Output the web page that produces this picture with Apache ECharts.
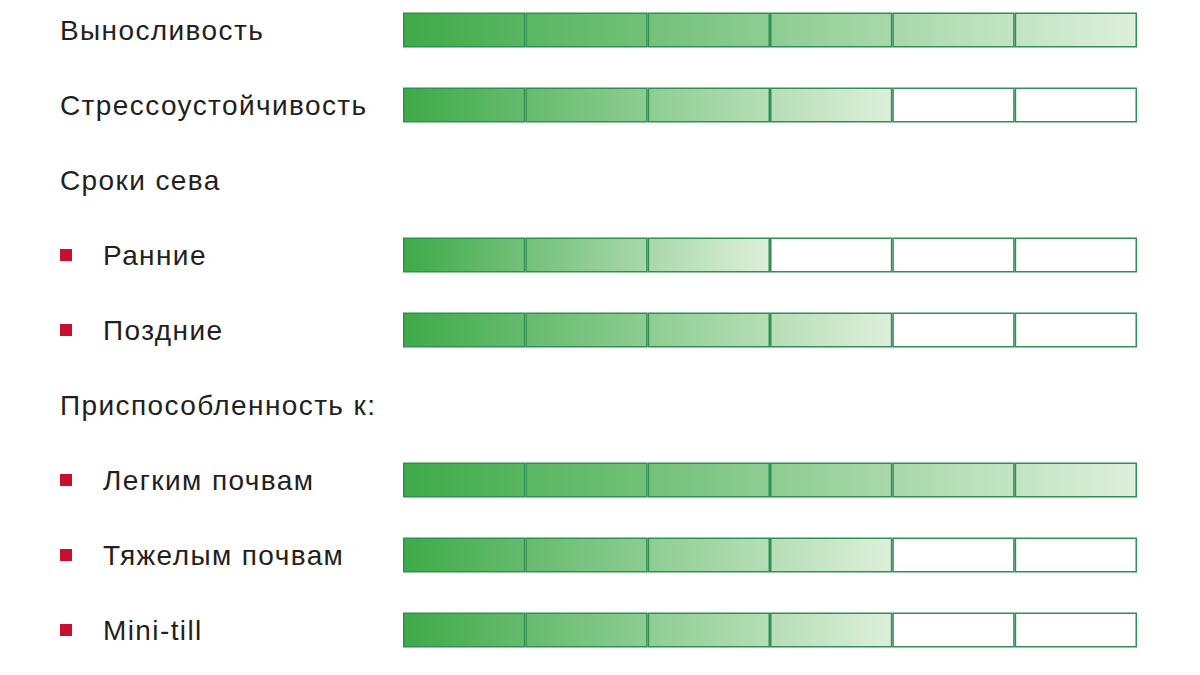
<!DOCTYPE html>
<html>
<head>
<meta charset="utf-8">
<script src="https://cdn.jsdelivr.net/npm/echarts@6/dist/echarts.min.js"></script>
<style>
  html, body { margin: 0; padding: 0; background: #fff; }
  #chart { width: 1200px; height: 675px; }
  #chart text { letter-spacing: 1.4px; }
</style>
</head>
<body>
<div id="chart"></div>
<script>
// rows top to bottom; sub = bullet item, score = number of filled cells (null = heading without bar)
var rows = ["Выносливость", "Стрессоустойчивость", "Сроки сева", "Ранние", "Поздние",
            "Приспособленность к:", "Легким почвам", "Тяжелым почвам", "Mini-till"]
var sub = [false, false, false, true, true, false, true, true, true]
var scores = [6, 4, null, 3, 4, null, 6, 4, 4]
var cells = 6

var startColor = [62, 170, 72]
var endColor = [222, 239, 219]

function mix(t) {
  var c = startColor.map(function (v, k) { return Math.round(v + (endColor[k] - v) * t) })
  return "rgb(" + c.join(",") + ")"
}

var series = []
for (var i = 0; i < cells; i++) {
  var data = scores.map(function (s) {
    if (s === null) return "-"
    if (i >= s) return { value: 1, itemStyle: { color: "#fff" } }
    return {
      value: 1,
      itemStyle: {
        color: {
          type: "linear", x: 0, y: 0, x2: 1, y2: 0,
          colorStops: [{ offset: 0, color: mix(i / s) }, { offset: 1, color: mix((i + 1) / s) }]
        }
      }
    }
  })
  series.push({
    type: "bar",
    stack: "cells",
    barWidth: 35,
    silent: true,
    itemStyle: { borderColor: "#2f8f55", borderWidth: 1.5 },
    data: data
  })
}

var chart = echarts.init(document.getElementById("chart"), null, { renderer: "svg" })
chart.setOption({
  animation: false,
  grid: { left: 403, right: 63, top: -7.5, height: 675, containLabel: false, outerBoundsMode: "none" },
  xAxis: { type: "value", min: 0, max: cells, show: false },
  yAxis: {
    type: "category",
    inverse: true,
    data: rows,
    axisLine: { show: false },
    axisTick: { show: false },
    axisLabel: {
      align: "left",
      margin: 343,
      fontFamily: "'Liberation Sans', Arial, sans-serif",
      fontSize: 28,
      color: "#231f20",
      formatter: function (v, idx) {
        return sub[idx] ? "{b|}{s|}" + v : v
      },
      rich: {
        b: { width: 12, height: 12, backgroundColor: "#c8102e", verticalAlign: "middle" },
        s: { width: 31 }
      }
    }
  },
  series: series
})
</script>
</body>
</html>
